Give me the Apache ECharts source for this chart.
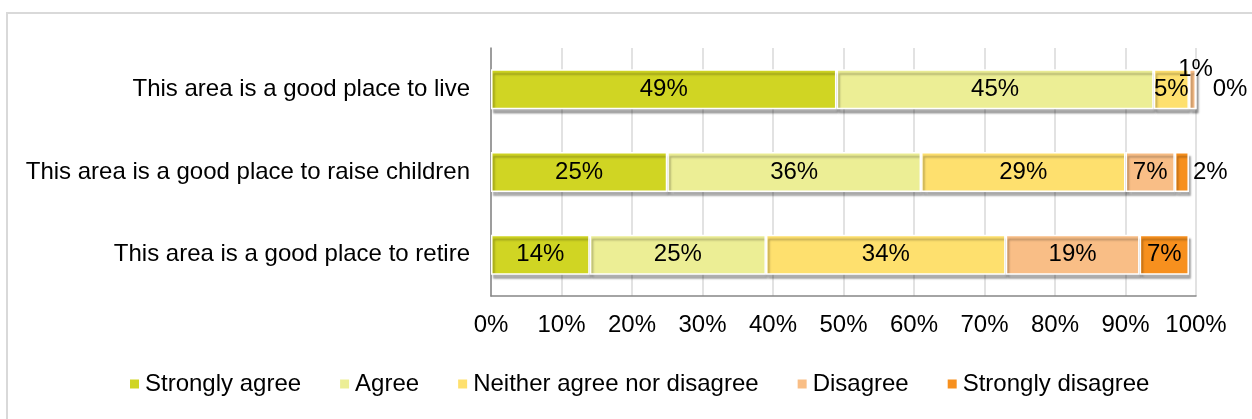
<!DOCTYPE html>
<html>
<head>
<meta charset="utf-8">
<script src="https://cdn.jsdelivr.net/npm/echarts@6/dist/echarts.min.js"></script>
<style>
  html, body { margin: 0; padding: 0; background: #fff; }
  #chart { width: 1252px; height: 419px; }
</style>
</head>
<body>
<div id="chart"></div>
<script>
// Survey statements (top to bottom)
const categories = [
  'This area is a good place to live',
  'This area is a good place to raise children',
  'This area is a good place to retire'
];

// Response shares, percent, one value per statement
const stronglyAgree    = [49, 25, 14];
const agree            = [45, 36, 25];
const neither          = [5, 29, 34];
const disagree         = [1, 7, 19];
const stronglyDisagree = [0, 2, 7];

const seriesNames = ['Strongly agree', 'Agree', 'Neither agree nor disagree', 'Disagree', 'Strongly disagree'];
const seriesValues = [stronglyAgree, agree, neither, disagree, stronglyDisagree];
const seriesColors = ['#D0D523', '#ECEE95', '#FEE06E', '#F9BE86', '#F7901E'];

const tickValues = [0, 10, 20, 30, 40, 50, 60, 70, 80, 90, 100];

const FONT = '"Liberation Sans", Arial, sans-serif';
const FS = 24;

// Small segments whose labels sit outside the bar
const labelOverrides = {
  'Disagree': { 0: { position: 'inside', offset: [3, -20] } },
  'Strongly disagree': {
    0: { position: 'right', distance: 16 },
    1: { position: 'right', distance: 4 }
  }
};

const series = seriesNames.map((name, si) => ({
  name,
  type: 'bar',
  stack: 'total',
  barWidth: 40,
  itemStyle: {
    color: seriesColors[si],
    borderColor: '#ffffff',
    borderWidth: 1.5,
    shadowColor: 'rgba(0,0,0,0.3)',
    shadowBlur: 2,
    shadowOffsetX: 2,
    shadowOffsetY: 4
  },
  label: {
    show: true,
    position: 'inside',
    color: '#000',
    fontFamily: FONT,
    fontSize: FS,
    formatter: p => p.value + '%'
  },
  data: seriesValues[si].map((v, ci) => {
    const o = labelOverrides[name] && labelOverrides[name][ci];
    return o ? { value: v, label: o } : v;
  })
}));

const chart = echarts.init(document.getElementById('chart'), null, { renderer: 'canvas' });
chart.setOption({
  animation: false,
  backgroundColor: '#ffffff',
  graphic: [
    { type: 'polyline', shape: { points: [[7, 419], [7, 13], [1252, 13]] },
      style: { stroke: '#d9d9d9', lineWidth: 2, fill: null }, silent: true }
  ],
  grid: { left: 491, right: 56, top: 48, bottom: 123, containLabel: false },
  legend: {
    data: seriesNames,
    left: 123,
    top: 367,
    itemWidth: 11,
    itemHeight: 11,
    itemGap: 37,
    icon: 'rect',
    textStyle: { fontFamily: FONT, fontSize: FS, color: '#000' }
  },
  xAxis: {
    type: 'value',
    min: tickValues[0],
    max: tickValues[tickValues.length - 1],
    interval: tickValues[1] - tickValues[0],
    axisLine: { show: true, lineStyle: { color: '#868686', width: 1.5 } },
    axisTick: { show: false },
    splitLine: { show: true, lineStyle: { color: '#d9d9d9', width: 1.5 } },
    axisLabel: {
      margin: 17,
      color: '#000',
      fontFamily: FONT,
      fontSize: FS,
      formatter: '{value}%'
    }
  },
  yAxis: {
    type: 'category',
    inverse: true,
    data: categories,
    axisLine: { show: true, lineStyle: { color: '#868686', width: 1.5 } },
    axisTick: { show: false },
    axisLabel: {
      margin: 21,
      color: '#000',
      fontFamily: FONT,
      fontSize: FS
    }
  },
  series
});
</script>
</body>
</html>
